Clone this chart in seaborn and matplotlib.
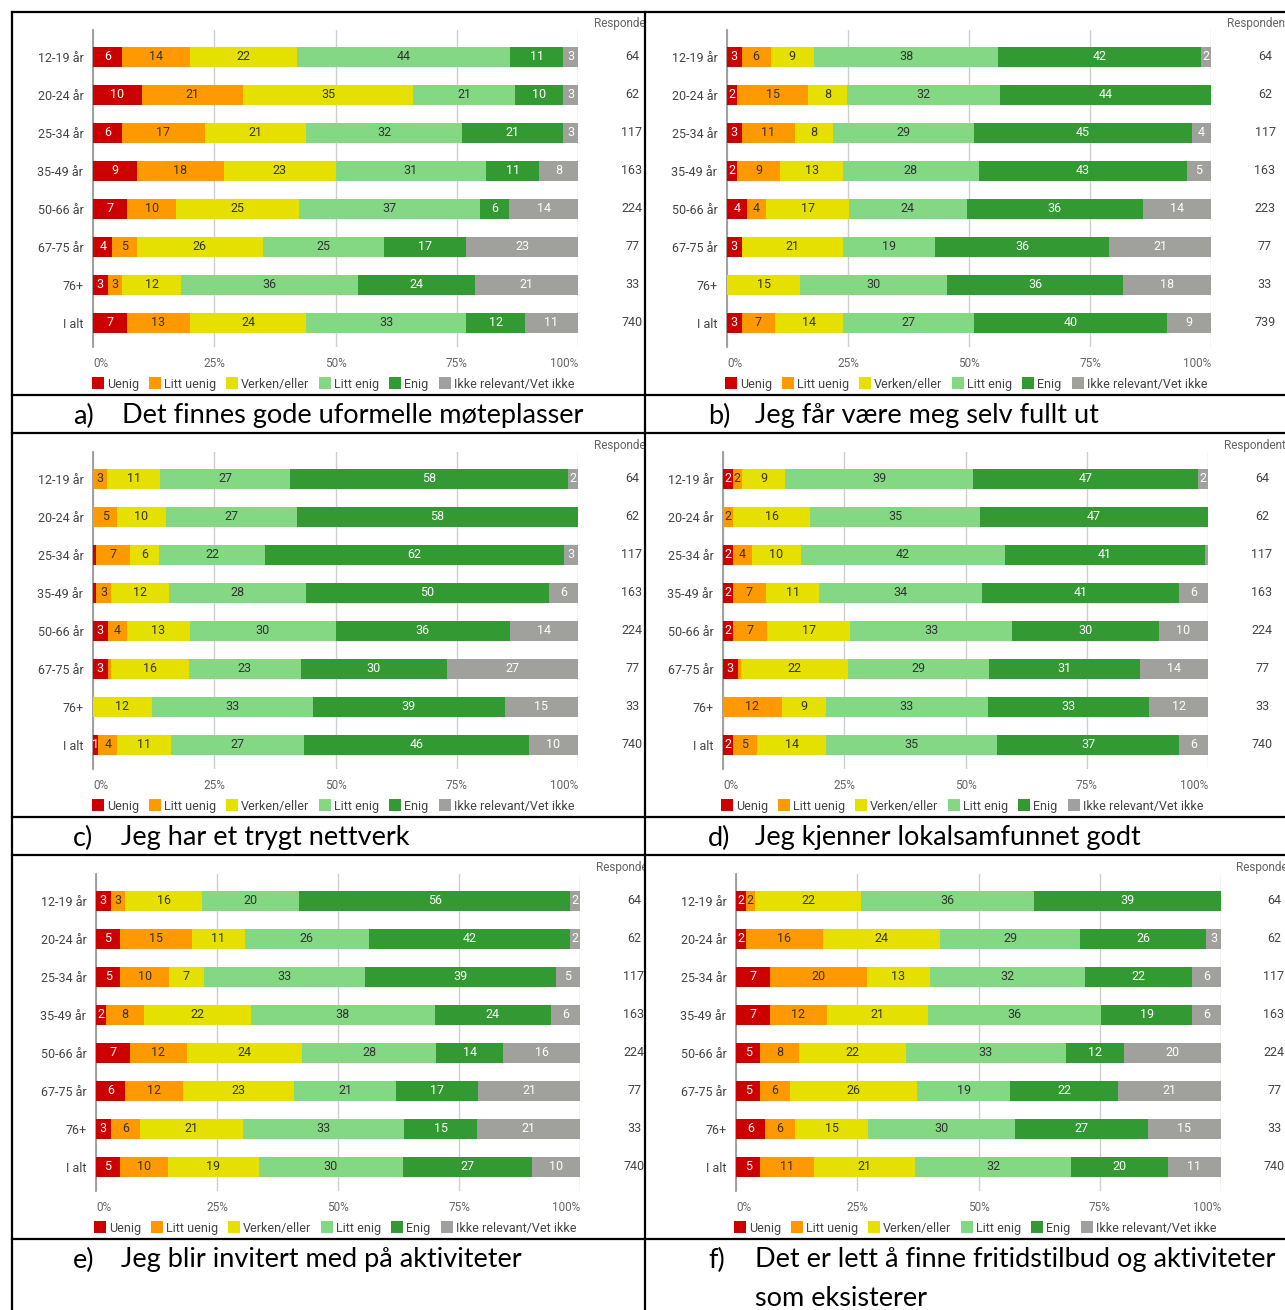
import numpy as np
import pandas as pd
import seaborn as sns
import matplotlib
matplotlib.use("Agg")
import matplotlib.pyplot as plt
from matplotlib.lines import Line2D
from matplotlib.patches import Patch
from matplotlib.transforms import Bbox, TransformedBbox

plt.rcParams['font.family'] = ['Roboto', 'DejaVu Sans']

# ---------------- data ----------------
age_groups = ['12-19 år', '20-24 år', '25-34 år', '35-49 år', '50-66 år', '67-75 år', '76+', 'I alt']
categories = ['Uenig', 'Litt uenig', 'Verken/eller', 'Litt enig', 'Enig', 'Ikke relevant/Vet ikke']
colors = ['#cc0000', '#ff9900', '#e6e000', '#84d884', '#339933', '#a0a09d']
text_colors = ['white', '#333333', '#333333', '#333333', 'white', 'white']
tick_values = [0, 25, 50, 75, 100]
tick_labels = ['0%', '25%', '50%', '75%', '100%']
header_label = 'Respondenter'

values_a = [[6, 14, 22, 44, 11, 3],
            [10, 21, 35, 21, 10, 3],
            [6, 17, 21, 32, 21, 3],
            [9, 18, 23, 31, 11, 8],
            [7, 10, 25, 37, 6, 14],
            [4, 5, 26, 25, 17, 23],
            [3, 3, 12, 36, 24, 21],
            [7, 13, 24, 33, 12, 11]]
counts_a = [64, 62, 117, 163, 224, 77, 33, 740]

values_b = [[3, 6, 9, 38, 42, 2],
            [2, 15, 8, 32, 44, 0],
            [3, 11, 8, 29, 45, 4],
            [2, 9, 13, 28, 43, 5],
            [4, 4, 17, 24, 36, 14],
            [3, 0, 21, 19, 36, 21],
            [0, 0, 15, 30, 36, 18],
            [3, 7, 14, 27, 40, 9]]
counts_b = [64, 62, 117, 163, 223, 77, 33, 739]

values_c = [[0, 3, 11, 27, 58, 2],
            [0, 5, 10, 27, 58, 0],
            [0.7, 7, 6, 22, 62, 3],
            [0.7, 3, 12, 28, 50, 6],
            [3, 4, 13, 30, 36, 14],
            [3, 0.7, 16, 23, 30, 27],
            [0, 0, 12, 33, 39, 15],
            [1, 4, 11, 27, 46, 10]]
counts_c = [64, 62, 117, 163, 224, 77, 33, 740]

values_d = [[2, 2, 9, 39, 47, 2],
            [0, 2, 16, 35, 47, 0],
            [2, 4, 10, 42, 41, 0.7],
            [2, 7, 11, 34, 41, 6],
            [2, 7, 17, 33, 30, 10],
            [3, 0.7, 22, 29, 31, 14],
            [0, 12, 9, 33, 33, 12],
            [2, 5, 14, 35, 37, 6]]
counts_d = [64, 62, 117, 163, 224, 77, 33, 740]

values_e = [[3, 3, 16, 20, 56, 2],
            [5, 15, 11, 26, 42, 2],
            [5, 10, 7, 33, 39, 5],
            [2, 8, 22, 38, 24, 6],
            [7, 12, 24, 28, 14, 16],
            [6, 12, 23, 21, 17, 21],
            [3, 6, 21, 33, 15, 21],
            [5, 10, 19, 30, 27, 10]]
counts_e = [64, 62, 117, 163, 224, 77, 33, 740]

values_f = [[2, 2, 22, 36, 39, 0],
            [2, 16, 24, 29, 26, 3],
            [7, 20, 13, 32, 22, 6],
            [7, 12, 21, 36, 19, 6],
            [5, 8, 22, 33, 12, 20],
            [5, 6, 26, 19, 22, 21],
            [6, 6, 15, 30, 27, 15],
            [5, 11, 21, 32, 20, 11]]
counts_f = [64, 62, 117, 163, 224, 77, 33, 740]

caption_letters = ['a)', 'b)', 'c)', 'd)', 'e)', 'f)']
caption_texts = ['Det finnes gode uformelle møteplasser',
                 'Jeg får være meg selv fullt ut',
                 'Jeg har et trygt nettverk',
                 'Jeg kjenner lokalsamfunnet godt',
                 'Jeg blir invitert med på aktiviteter',
                 'Det er lett å finne fritidstilbud og aktiviteter\nsom eksisterer']

# ---------------- layout ----------------
W, H = 1285, 1310
fig = plt.figure(figsize=(W / 100, H / 100), dpi=100)
fig.patch.set_facecolor('white')


def fx(x):
    return x / W


def fy(y):
    return 1 - y / H


panels = [
    dict(vals=values_a, counts=counts_a, x0=93, x1=578, row0=57, cnt=632, hdr=(594, 23), leg=333,
         cap=(73, 122, 416), clip=644),
    dict(vals=values_b, counts=counts_b, x0=727, x1=1211, row0=57, cnt=1265, hdr=(1227, 23), leg=966,
         cap=(708, 755, 416), clip=None),
    dict(vals=values_c, counts=counts_c, x0=93, x1=578, row0=479, cnt=632, hdr=(594, 445), leg=333,
         cap=(73, 121, 838), clip=644),
    dict(vals=values_d, counts=counts_d, x0=723, x1=1208, row0=479, cnt=1262, hdr=(1224, 445), leg=962,
         cap=(708, 755, 838), clip=None),
    dict(vals=values_e, counts=counts_e, x0=96, x1=580, row0=901, cnt=634, hdr=(596, 867), leg=335,
         cap=(73, 121, 1260), clip=644),
    dict(vals=values_f, counts=counts_f, x0=736, x1=1221, row0=901, cnt=1274, hdr=(1236, 867), leg=975,
         cap=(708, 755, 1260), clip=None),
]

SP = 38.0  # pixel spacing of rows

for idx, p in enumerate(panels):
    top = p['row0'] - 27
    bot = p['row0'] + 7 * SP + 24
    ax = fig.add_axes([fx(p['x0']), fy(bot), (p['x1'] - p['x0']) / W, (bot - top) / H])
    vals = np.array(p['vals'], dtype=float)
    pct = vals / vals.sum(axis=1, keepdims=True) * 100
    cum = np.cumsum(pct, axis=1)
    for k in range(len(categories) - 1, -1, -1):
        df = pd.DataFrame({'grp': age_groups, 'val': cum[:, k]})
        sns.barplot(data=df, x='val', y='grp', order=age_groups, orient='h', color=colors[k],
                    saturation=1, width=0.51, errorbar=None, ax=ax, linewidth=0, zorder=3)
    ax.set_xlim(0, 100)
    ax.set_ylim(7 + 24 / SP, -27 / SP)
    ax.set_xlabel('')
    ax.set_ylabel('')
    ax.set_axisbelow(True)
    ax.set_xticks(tick_values)
    ax.set_xticklabels(tick_labels)
    tl = ax.get_xticklabels()
    tl[0].set_ha('left')
    tl[-1].set_ha('right')
    ax.grid(axis='x', color='#cfcfcf', lw=1.0)
    ax.grid(axis='y', visible=False)
    for s in ['top', 'right', 'bottom']:
        ax.spines[s].set_visible(False)
    ax.spines['left'].set_color('#9a9a9a')
    ax.spines['left'].set_linewidth(1.3)
    ax.tick_params(axis='x', length=0, pad=7, labelsize=8.5, labelcolor='#666666')
    ax.tick_params(axis='y', length=0, pad=7, labelsize=9, labelcolor='#444444')
    ax.set_facecolor('none')

    # segment labels
    for i in range(len(age_groups)):
        for k in range(len(categories)):
            v = vals[i, k]
            if v >= 1:
                ax.text(cum[i, k] - pct[i, k] / 2, i, str(int(round(v))), ha='center', va='center',
                        fontsize=9, color=text_colors[k], zorder=5)
    # respondent counts
    cx = (p['cnt'] - p['x0']) / (p['x1'] - p['x0'])
    for i, c in enumerate(p['counts']):
        ax.text(cx, i, str(c), transform=ax.get_yaxis_transform(), ha='center', va='center',
                fontsize=9, color='#444444', clip_on=False)
    # header (cut off at the cell border, as in the source table)
    hx, hy = p['hdr']
    t = fig.text(fx(hx), fy(hy), header_label, ha='left', va='center', fontsize=8.5, color='#666666')
    if p['clip'] is not None:
        t.set_clip_box(TransformedBbox(Bbox.from_extents(0, 0, fx(p['clip']), 1), fig.transFigure))
        t.set_clip_on(True)
    # legend
    handles = [Patch(facecolor=c, edgecolor='none') for c in colors]
    fig.legend(handles, categories, loc='center', bbox_to_anchor=(fx(p['leg']), fy(p['row0'] + 327)),
               ncol=6, frameon=False, fontsize=9, handlelength=0.95, handleheight=1.05,
               handletextpad=0.25, columnspacing=0.8, labelcolor='#444444', borderpad=0, borderaxespad=0)
    # caption
    lx, tx, cy = p['cap']
    fig.text(fx(lx), fy(cy), caption_letters[idx], ha='left', va='center', fontsize=19.5,
             family=['Lato', 'DejaVu Sans'], color='black')
    fig.text(fx(tx), fy(cy - 13), caption_texts[idx], ha='left', va='top', fontsize=19.5,
             family=['Lato', 'DejaVu Sans'], color='black', linespacing=1.7)

# table borders
lw = 1.6
for y in [12, 395, 433, 817, 855, 1239]:
    fig.add_artist(Line2D([fx(12), 1], [fy(y), fy(y)], transform=fig.transFigure, color='black', lw=lw))
for x in [12, 645]:
    fig.add_artist(Line2D([fx(x), fx(x)], [fy(12), 0], transform=fig.transFigure, color='black', lw=lw))

fig.savefig('out.png', dpi=100, facecolor='white')
